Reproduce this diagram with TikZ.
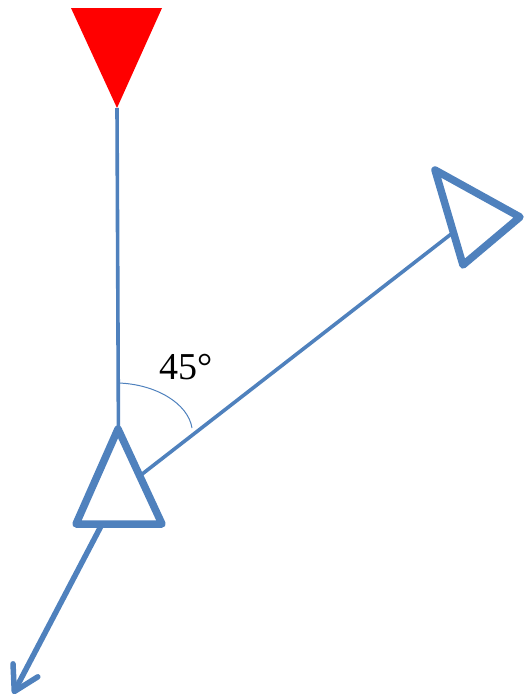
\documentclass[tikz,border=0pt]{standalone}
\usepackage{fontspec}
\setmainfont{Liberation Serif}
\usetikzlibrary{arrows.meta}
\definecolor{oblue}{RGB}{79,129,189}
\begin{document}
\begin{tikzpicture}[x=1pt,y=-1pt,
  conn/.style={draw=oblue,line width=3.6pt},
  tri/.style={draw=oblue,line width=7.5pt,line join=round,fill=white},
  redtri/.style={fill=red,draw=none},
  anglearc/.style={draw=oblue,line width=1pt},
  lbl/.style={font=\fontsize{38}{40}\selectfont,inner sep=0pt}]
\useasboundingbox (0,0) rectangle (525,697);
% named points
\coordinate (rA) at (71,8);
\coordinate (rB) at (162,8);
\coordinate (rC) at (117,108);
\coordinate (bA) at (118,429);
\coordinate (bB) at (76,524);
\coordinate (bC) at (162,524);
\coordinate (bc) at (118.7,492.3);
\coordinate (gA) at (435,170);
\coordinate (gB) at (520,217);
\coordinate (gC) at (463,265);
\coordinate (gc) at (472.7,217.3);
\coordinate (tip) at (13,694);
\coordinate (arcS) at (118,383);
\coordinate (arcE) at (192,428);
% connectors
\draw[conn] (rC) -- (bc);
\draw[conn] (bc) -- (gc);
\draw[draw=oblue,line width=5.5pt,line cap=round,-{Straight Barb[length=24pt,width=28pt,round]}] (bc) -- (tip);
\draw[anglearc] (arcS) .. controls (155,384) and (188,403) .. (arcE);
% triangles
\fill[redtri] (rA) -- (rB) -- (rC) -- cycle;
\draw[tri] (bA) -- (bB) -- (bC) -- cycle;
\draw[tri] (gA) -- (gB) -- (gC) -- cycle;
% label
\node[lbl,anchor=base west] (ang) at (159,379) {45°};
\end{tikzpicture}
\end{document}
